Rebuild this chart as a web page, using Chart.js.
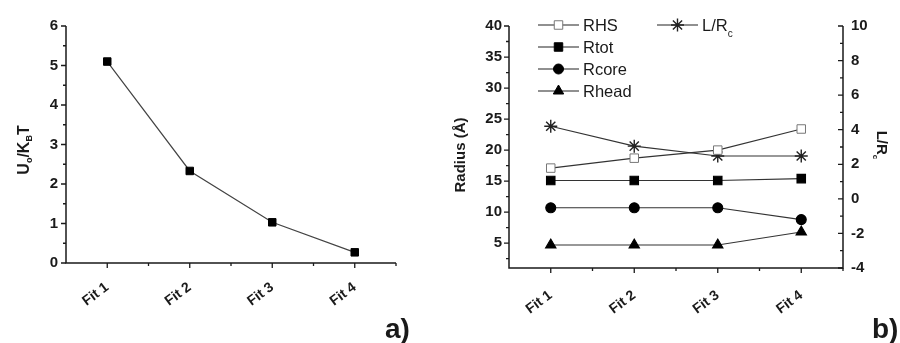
<!DOCTYPE html>
<html>
<head>
<meta charset="utf-8">
<script src="https://cdn.jsdelivr.net/npm/chart.js@4"></script>
<style>
  html, body { margin:0; padding:0; background:#fff; }
  #wrap { position:relative; width:900px; height:343px; overflow:hidden; }
  canvas { position:absolute; top:0; }
  #ca { left:0; }
  #cb { left:450px; }
</style>
</head>
<body>
<div id="wrap">
  <canvas id="ca" width="450" height="343"></canvas>
  <canvas id="cb" width="450" height="343"></canvas>
</div>
<script>
// ---- data ----
const categories = ['Fit 1', 'Fit 2', 'Fit 3', 'Fit 4'];
const energy = [5.1, 2.33, 1.03, 0.27];          // U0/KBT
const rhs   = [17.1, 18.7, 20.0, 23.4];          // Radius (Å)
const rtot  = [15.1, 15.1, 15.1, 15.4];
const rcore = [10.7, 10.7, 10.7, 8.8];
const rhead = [4.7, 4.7, 4.7, 6.8];
const lrc   = [4.2, 3.05, 2.48, 2.48];           // L/Rc (right axis)
const yTicksA = [0, 1, 2, 3, 4, 5, 6];
const yTicksB = [5, 10, 15, 20, 25, 30, 35, 40];
const yTicksB2 = [-4, -2, 0, 2, 4, 6, 8, 10];

const FONT = '"Liberation Sans", Arial, Helvetica, sans-serif';
const INK = '#1a1a1a';
Chart.defaults.font.family = FONT;
Chart.defaults.color = INK;

const tickFont = { family: FONT, size: 15, weight: 'bold' };
const xFont = { family: FONT, size: 14, weight: 'bold' };

// ---- helpers ----
function drawMarker(ctx, style, x, y, r, fill, stroke, lw) {
  ctx.save();
  ctx.fillStyle = fill; ctx.strokeStyle = stroke; ctx.lineWidth = lw || 1;
  ctx.beginPath();
  if (style === 'rect') {
    const s = r * Math.SQRT1_2;
    ctx.rect(x - s, y - s, 2 * s, 2 * s);
    ctx.fill(); ctx.stroke();
  } else if (style === 'circle') {
    ctx.arc(x, y, r, 0, Math.PI * 2);
    ctx.fill(); ctx.stroke();
  } else if (style === 'triangle') {
    ctx.moveTo(x, y - r);
    ctx.lineTo(x + r * 0.866, y + r * 0.5);
    ctx.lineTo(x - r * 0.866, y + r * 0.5);
    ctx.closePath();
    ctx.fill(); ctx.stroke();
  } else if (style === 'star') {
    for (let k = 0; k < 4; k++) {
      const a = k * Math.PI / 4;
      ctx.moveTo(x - Math.cos(a) * r, y - Math.sin(a) * r);
      ctx.lineTo(x + Math.cos(a) * r, y + Math.sin(a) * r);
    }
    ctx.stroke();
  }
  ctx.restore();
}

function drawTicks(ctx, scale, values, side, len, dir) {
  ctx.beginPath();
  values.forEach(v => {
    const p = scale.getPixelForValue(v);
    if (side === 'left') { ctx.moveTo(scale.right, p); ctx.lineTo(scale.right - len * dir, p); }
    if (side === 'right') { ctx.moveTo(scale.left, p); ctx.lineTo(scale.left + len * dir, p); }
    if (side === 'bottom') { ctx.moveTo(p, scale.top); ctx.lineTo(p, scale.top + len * dir); }
  });
  ctx.stroke();
}

function rotatedRich(ctx, parts, cx, cy, angle) {
  ctx.save();
  ctx.translate(cx, cy);
  ctx.rotate(angle);
  let total = 0;
  parts.forEach(p => { ctx.font = p.font; total += ctx.measureText(p.t).width; });
  let x = -total / 2;
  ctx.textBaseline = 'middle';
  ctx.textAlign = 'left';
  ctx.fillStyle = INK;
  parts.forEach(p => {
    ctx.font = p.font;
    ctx.fillText(p.t, x, p.dy || 0);
    x += ctx.measureText(p.t).width;
  });
  ctx.restore();
}

// ---- panel a ----
const axesPluginA = {
  id: 'axesA',
  afterDraw(chart) {
    const ctx = chart.ctx, a = chart.chartArea;
    const x = chart.scales.x, y = chart.scales.y;
    ctx.save();
    ctx.strokeStyle = INK; ctx.lineWidth = 1.5;
    ctx.beginPath();
    ctx.moveTo(a.left, a.top); ctx.lineTo(a.left, a.bottom); ctx.lineTo(a.right, a.bottom);
    ctx.stroke();
    ctx.lineWidth = 1.3;
    drawTicks(ctx, y, yTicksA, 'left', 5, 1);
    drawTicks(ctx, y, yTicksA.slice(0, -1).map(v => v + 0.5), 'left', 3, 1);
    drawTicks(ctx, x, categories.map((c, i) => i), 'bottom', 5, 1);
    drawTicks(ctx, x, categories.map((c, i) => i + 0.5), 'bottom', 3, 1);
    const big = `bold 16px ${FONT}`, small = `bold 9px ${FONT}`;
    rotatedRich(ctx, [
      { t: 'U', font: big }, { t: 'o', font: small, dy: 5 }, { t: '/K', font: big },
      { t: 'B', font: small, dy: 5 }, { t: 'T', font: big }
    ], 25, 150, -Math.PI / 2);
    ctx.font = `bold 28px ${FONT}`;
    ctx.fillStyle = INK; ctx.textAlign = 'left'; ctx.textBaseline = 'alphabetic';
    ctx.fillText('a)', 385, 338);
    ctx.restore();
  }
};

new Chart(document.getElementById('ca'), {
  type: 'line',
  data: {
    labels: categories,
    datasets: [{
      data: energy,
      borderColor: '#444', borderWidth: 1.2,
      pointStyle: 'rect', pointRadius: 5.3, pointBackgroundColor: '#000', pointBorderColor: '#000',
      pointBorderWidth: 1, tension: 0
    }]
  },
  options: {
    responsive: false, animation: false, devicePixelRatio: 1,
    layout: { padding: { left: 0, top: 26, right: 54, bottom: 0 } },
    plugins: { legend: { display: false }, tooltip: { enabled: false } },
    scales: {
      x: {
        offset: true,
        afterFit: s => { s.height = 80; },
        grid: { display: true, drawOnChartArea: false, drawTicks: false, color: 'rgba(0,0,0,0)' },
        border: { display: false },
        ticks: { font: xFont, color: INK, minRotation: 37, maxRotation: 37, padding: 16 }
      },
      y: {
        min: 0, max: 6,
        afterFit: s => { s.width = 66; },
        afterBuildTicks: s => { s.ticks = yTicksA.map(v => ({ value: v })); },
        grid: { display: true, drawOnChartArea: false, drawTicks: false, color: 'rgba(0,0,0,0)' },
        border: { display: false },
        ticks: { font: tickFont, color: INK, padding: 8 }
      }
    }
  },
  plugins: [axesPluginA]
});

// ---- panel b ----
const legendItems = [
  { label: 'RHS', style: 'rect', r: 6, fill: '#fff', stroke: '#777', x: 538, y: 25 },
  { label: 'Rtot', style: 'rect', r: 6, fill: '#000', stroke: '#000', x: 538, y: 47 },
  { label: 'Rcore', style: 'circle', r: 5, fill: '#000', stroke: '#000', x: 538, y: 69 },
  { label: 'Rhead', style: 'triangle', r: 6, fill: '#000', stroke: '#000', x: 538, y: 91 },
  { label: 'L/R', sub: 'c', style: 'star', r: 6.5, fill: '#000', stroke: '#222', lw: 1.4, x: 657, y: 25 }
];

const axesPluginB = {
  id: 'axesB',
  afterDraw(chart) {
    const ctx = chart.ctx, a = chart.chartArea;
    const x = chart.scales.x, y = chart.scales.y, y1 = chart.scales.y1;
    ctx.save();
    ctx.strokeStyle = INK; ctx.lineWidth = 1.5;
    ctx.beginPath();
    ctx.moveTo(a.left, a.top); ctx.lineTo(a.left, a.bottom); ctx.lineTo(a.right, a.bottom); ctx.lineTo(a.right, a.top);
    ctx.stroke();
    ctx.lineWidth = 1.3;
    drawTicks(ctx, y, yTicksB, 'left', 5, 1);
    drawTicks(ctx, y, [2.5, 7.5, 12.5, 17.5, 22.5, 27.5, 32.5, 37.5], 'left', 3, 1);
    drawTicks(ctx, y1, yTicksB2, 'right', 5, -1);
    drawTicks(ctx, y1, yTicksB2.slice(0, -1).map(v => v + 1), 'right', 3, -1);
    drawTicks(ctx, x, categories.map((c, i) => i), 'bottom', 5, 1);
    drawTicks(ctx, x, categories.map((c, i) => i + 0.5), 'bottom', 3, 1);

    const off = 450;
    legendItems.forEach(it => {
      const lx = it.x - off;
      ctx.strokeStyle = '#222'; ctx.lineWidth = 1.2;
      ctx.beginPath(); ctx.moveTo(lx, it.y); ctx.lineTo(lx + 41, it.y); ctx.stroke();
      drawMarker(ctx, it.style, lx + 20.5, it.y, it.r, it.fill, it.stroke, it.lw);
      ctx.fillStyle = INK; ctx.textAlign = 'left'; ctx.textBaseline = 'middle';
      ctx.font = `16.5px ${FONT}`;
      ctx.fillText(it.label, lx + 45, it.y + 1);
      if (it.sub) {
        const w = ctx.measureText(it.label).width;
        ctx.font = `10px ${FONT}`;
        ctx.fillText(it.sub, lx + 45 + w, it.y + 9);
      }
    });

    const big = `bold 15px ${FONT}`, small = `bold 8px ${FONT}`;
    rotatedRich(ctx, [{ t: 'Radius (Å)', font: big }], 11, 155, -Math.PI / 2);
    rotatedRich(ctx, [{ t: 'L/R', font: big }, { t: 'c', font: small, dy: 6 }], 431, 145, Math.PI / 2);
    ctx.font = `bold 28px ${FONT}`;
    ctx.fillStyle = INK; ctx.textAlign = 'left'; ctx.textBaseline = 'alphabetic';
    ctx.fillText('b)', 422, 338);
    ctx.restore();
  }
};

const lineColor = '#333';
new Chart(document.getElementById('cb'), {
  type: 'line',
  data: {
    labels: categories,
    datasets: [
      { label: 'RHS', data: rhs, yAxisID: 'y', borderColor: lineColor, borderWidth: 1.1,
        pointStyle: 'rect', pointRadius: 6, pointBackgroundColor: '#fff', pointBorderColor: '#777', pointBorderWidth: 1 },
      { label: 'Rtot', data: rtot, yAxisID: 'y', borderColor: lineColor, borderWidth: 1.1,
        pointStyle: 'rect', pointRadius: 6, pointBackgroundColor: '#000', pointBorderColor: '#000' },
      { label: 'Rcore', data: rcore, yAxisID: 'y', borderColor: lineColor, borderWidth: 1.1,
        pointStyle: 'circle', pointRadius: 5, pointBackgroundColor: '#000', pointBorderColor: '#000' },
      { label: 'Rhead', data: rhead, yAxisID: 'y', borderColor: lineColor, borderWidth: 1.1,
        pointStyle: 'triangle', pointRadius: 6, pointBackgroundColor: '#000', pointBorderColor: '#000' },
      { label: 'L/Rc', data: lrc, yAxisID: 'y1', borderColor: lineColor, borderWidth: 1.1,
        pointStyle: 'star', pointRadius: 6.5, pointBackgroundColor: '#000', pointBorderColor: '#222', pointBorderWidth: 1.4 }
    ]
  },
  options: {
    responsive: false, animation: false, devicePixelRatio: 1,
    layout: { padding: { left: 0, top: 26, right: 0, bottom: 0 } },
    plugins: { legend: { display: false }, tooltip: { enabled: false } },
    elements: { line: { tension: 0 } },
    scales: {
      x: {
        offset: true,
        afterFit: s => { s.height = 75; },
        grid: { display: true, drawOnChartArea: false, drawTicks: false, color: 'rgba(0,0,0,0)' },
        border: { display: false },
        ticks: { font: xFont, color: INK, minRotation: 37, maxRotation: 37, padding: 19 }
      },
      y: {
        position: 'left', min: 1, max: 40,
        afterFit: s => { s.width = 59; },
        afterBuildTicks: s => { s.ticks = yTicksB.map(v => ({ value: v })); },
        grid: { display: true, drawOnChartArea: false, drawTicks: false, color: 'rgba(0,0,0,0)' },
        border: { display: false },
        ticks: { font: tickFont, color: INK, padding: 7 }
      },
      y1: {
        position: 'right', min: -4, max: 10,
        afterFit: s => { s.width = 57; },
        afterBuildTicks: s => { s.ticks = yTicksB2.map(v => ({ value: v })); },
        grid: { display: true, drawOnChartArea: false, drawTicks: false, color: 'rgba(0,0,0,0)' },
        border: { display: false },
        ticks: { font: tickFont, color: INK, padding: 8 }
      }
    }
  },
  plugins: [axesPluginB]
});
</script>
</body>
</html>
